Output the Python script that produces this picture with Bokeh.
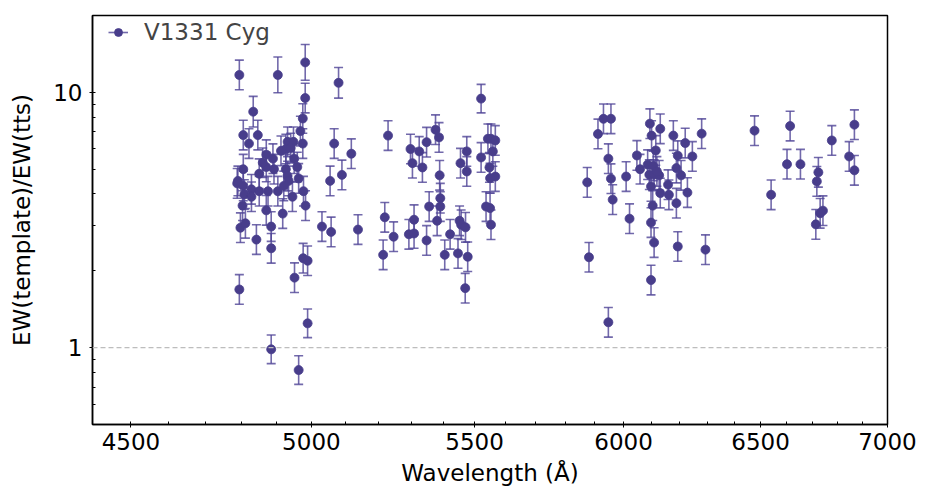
from bokeh.plotting import figure
from bokeh.models import (ColumnDataSource, Span, FixedTicker,
                          PrintfTickFormatter, Legend, LegendItem)
from bokeh.embed import file_html
from bokeh.resources import INLINE

# ---- data ----
wavelength = [
    4794, 4903, 4982, 5080, 4982, 4833, 4975, 4968, 4805, 4846,
    4821, 4931, 4948, 4975, 5067, 4926, 4940, 4870, 4889, 4912,
    4870, 4892, 4926, 4959, 4805, 4850, 4931, 4963, 5090, 5055,
    4788, 4805, 4828, 4850, 4875, 4903, 4934, 4977, 4808, 4828,
    4803, 4983, 4870, 4917, 4797, 4811, 4884, 5031, 5058, 5138,
    4842, 4884, 4794, 4951, 4976, 4989, 4989, 4884, 4963, 5118,
    4945, 4920, 4790, 4950, 4860,
    5229, 5219, 5214, 5246, 5298, 5304, 5325, 5335, 5348, 5376,
    5387, 5389, 5391, 5391, 5356, 5381, 5309, 5293, 5309, 5348,
    5405, 5422, 5447, 5452, 5457, 5471, 5478, 5470, 5455, 5475,
    5475, 5521, 5521, 5543, 5553, 5567, 5559, 5548, 5567, 5550,
    5537, 5550, 5553,
    5874, 5880, 5911, 5930, 5956, 5947, 5956, 5962, 5947, 6009,
    6021, 6047, 6058, 6093, 6099, 6114, 6085, 6091, 6108, 6126,
    6097, 6130, 6103, 6097, 6108, 6097, 6130, 6158, 6161, 6177,
    6188, 6193, 6188, 6193, 6205, 6220, 6228, 6246, 6280, 6294,
    6105, 6118,
    6477, 6540, 6601, 6613, 6653, 6776, 6866, 6845, 6866, 6723,
    6717, 6741, 6730, 6713,
]
ew_ratio = [
    11.7, 11.7, 13.1, 10.9, 9.5, 8.4, 7.9, 7.05, 6.8, 6.8,
    6.3, 6.4, 6.4, 6.3, 6.3, 6.0, 6.05, 5.7, 5.5, 5.9,
    5.1, 5.0, 5.0, 5.1, 5.0, 4.8, 4.7, 4.6, 4.75, 4.5,
    4.4, 4.3, 4.17, 4.1, 4.1, 4.1, 4.5, 4.1, 3.98, 3.9,
    3.6, 3.6, 3.45, 3.35, 2.95, 3.07, 2.98, 2.98, 2.84, 2.9,
    2.65, 2.45, 1.69, 1.88, 2.24, 2.19, 1.245, 0.985, 0.817, 5.75,
    3.9, 4.3, 4.5, 5.5, 5.3,
    6.77, 3.24, 2.31, 2.72, 6.0, 5.28, 5.87, 5.08, 6.38, 7.14,
    6.66, 4.73, 3.85, 3.57, 3.57, 3.14, 3.17, 2.78, 2.8, 2.63,
    2.31, 2.78, 2.34, 3.14, 3.03, 2.96, 2.27, 1.71, 5.28, 5.87,
    4.9, 9.45, 5.56, 6.58, 6.58, 6.48, 5.87, 5.08, 4.68, 4.61,
    3.57, 3.52, 3.03,
    4.44, 2.26, 6.87, 7.88, 7.88, 5.5, 4.59, 3.8, 1.257, 4.68,
    3.2, 5.66, 5.0, 7.54, 6.77, 5.92, 5.21, 4.76, 4.76, 4.73,
    4.28, 4.03, 3.6, 3.09, 2.58, 1.84, 7.2, 4.35, 3.97, 6.77,
    5.05, 5.65, 3.68, 2.49, 4.73, 6.33, 4.05, 5.61, 6.89, 2.42,
    5.15, 4.9,
    7.08, 3.97, 5.23, 7.38, 5.23, 6.48, 7.47, 5.61, 4.95, 4.86,
    4.48, 3.44, 3.36, 3.04,
]
# error half-length in dex (log10 units)
err_dex = [
    0.058, 0.070, 0.070, 0.060, 0.058, 0.060, 0.058, 0.058, 0.058, 0.058,
    0.058, 0.058, 0.058, 0.058, 0.058, 0.058, 0.058, 0.058, 0.058, 0.058,
    0.058, 0.058, 0.058, 0.058, 0.058, 0.058, 0.058, 0.058, 0.058, 0.058,
    0.058, 0.058, 0.058, 0.058, 0.058, 0.058, 0.058, 0.058, 0.058, 0.058,
    0.058, 0.058, 0.058, 0.058, 0.058, 0.058, 0.058, 0.058, 0.058, 0.058,
    0.058, 0.058, 0.058, 0.058, 0.058, 0.058, 0.056, 0.056, 0.056, 0.058,
    0.058, 0.058, 0.058, 0.058, 0.058,
    0.058, 0.058, 0.058, 0.058, 0.058, 0.058, 0.058, 0.058, 0.058, 0.058,
    0.058, 0.058, 0.058, 0.058, 0.058, 0.058, 0.058, 0.058, 0.058, 0.058,
    0.058, 0.058, 0.058, 0.058, 0.058, 0.058, 0.058, 0.058, 0.058, 0.058,
    0.058, 0.056, 0.058, 0.058, 0.058, 0.058, 0.058, 0.058, 0.058, 0.058,
    0.058, 0.058, 0.058,
    0.058, 0.058, 0.058, 0.058, 0.058, 0.058, 0.058, 0.058, 0.058, 0.058,
    0.058, 0.058, 0.058, 0.058, 0.058, 0.058, 0.058, 0.058, 0.058, 0.058,
    0.058, 0.058, 0.058, 0.058, 0.058, 0.058, 0.058, 0.058, 0.058, 0.058,
    0.058, 0.058, 0.058, 0.058, 0.058, 0.058, 0.058, 0.058, 0.058, 0.058,
    0.058, 0.058,
    0.058, 0.058, 0.058, 0.058, 0.058, 0.058, 0.058, 0.058, 0.058, 0.058,
    0.058, 0.058, 0.058, 0.058,
]

x_major_ticks = [4500, 5000, 5500, 6000, 6500, 7000]
x_minor_ticks = [4400, 4600, 4700, 4800, 4900, 5100, 5200, 5300, 5400, 5600,
                 5700, 5800, 5900, 6100, 6200, 6300, 6400, 6600, 6700, 6800, 6900]
y_major_ticks = [1, 10]
y_minor_ticks = [0.5, 0.6, 0.7, 0.8, 0.9, 2, 3, 4, 5, 6, 7, 8, 9, 20]

series_name = "V1331 Cyg"
x_label = "Wavelength (Å)"
y_label = "EW(template)/EW(tts)"

COLOR = "#483d8b"
BAR_COLOR = "#4f4496"
FONT = "DejaVu Sans"
FS = "23px"

upper = [r * 10 ** e for r, e in zip(ew_ratio, err_dex)]
lower = [r / 10 ** e for r, e in zip(ew_ratio, err_dex)]
src = ColumnDataSource(dict(x=wavelength, y=ew_ratio, upper=upper, lower=lower))

p = figure(width=925, height=490, x_axis_type="log", y_axis_type="log",
           x_range=(4400, 7000), y_range=(0.5, 20),
           output_backend="svg", toolbar_location=None,
           min_border_left=92, min_border_right=38,
           min_border_top=15, min_border_bottom=66)
p.xgrid.visible = False
p.ygrid.visible = False
p.outline_line_color = "black"
p.outline_line_width = 1.5
p.background_fill_color = "white"
p.border_fill_color = "white"

ref = Span(location=1, dimension="width", line_color="#bdbdbd",
           line_dash="5 3", line_width=1.2)
p.add_layout(ref)

# error bars: vertical stems + cap markers
bars = p.segment(x0="x", y0="lower", x1="x", y1="upper", source=src,
                 line_color=BAR_COLOR, line_alpha=0.8, line_width=1.6)
p.scatter("x", "upper", source=src, marker="dash", size=9,
          line_color=BAR_COLOR, line_alpha=0.8, line_width=1.6)
p.scatter("x", "lower", source=src, marker="dash", size=9,
          line_color=BAR_COLOR, line_alpha=0.8, line_width=1.6)

pts = p.scatter("x", "y", source=src, marker="circle", size=9,
                fill_color=COLOR, line_color=COLOR, line_width=0.8)

legend = Legend(items=[LegendItem(label=series_name, renderers=[bars, pts])],
                location=(16, 379), margin=0, padding=0,
                border_line_color=None, background_fill_alpha=0,
                label_text_font=FONT, label_text_font_size=FS,
                label_standoff=16, glyph_width=20, glyph_height=20)
p.add_layout(legend)

for ax in (p.xaxis[0], p.yaxis[0]):
    ax.axis_line_color = "black"
    ax.axis_line_width = 1.5
    ax.major_tick_line_color = "black"
    ax.minor_tick_line_color = "black"
    ax.major_tick_in = 3
    ax.major_tick_out = 3
    ax.minor_tick_in = 3
    ax.minor_tick_out = 0
    ax.major_label_text_font = FONT
    ax.major_label_text_font_size = FS
    ax.major_label_text_color = "black"
    ax.axis_label_text_font = FONT
    ax.axis_label_text_font_size = FS
    ax.axis_label_text_font_style = "normal"
    ax.axis_label_text_color = "black"
    ax.formatter = PrintfTickFormatter(format="%d")

p.xaxis.ticker = FixedTicker(ticks=x_major_ticks, minor_ticks=x_minor_ticks)
p.yaxis.ticker = FixedTicker(ticks=y_major_ticks, minor_ticks=y_minor_ticks)
p.xaxis.axis_label = x_label
p.yaxis.axis_label = y_label
p.xaxis.major_label_standoff = 5
p.yaxis.major_label_standoff = 7
p.xaxis.axis_label_standoff = 7
p.yaxis.axis_label_standoff = 15

open("out.html", "w").write(file_html(p, INLINE))
